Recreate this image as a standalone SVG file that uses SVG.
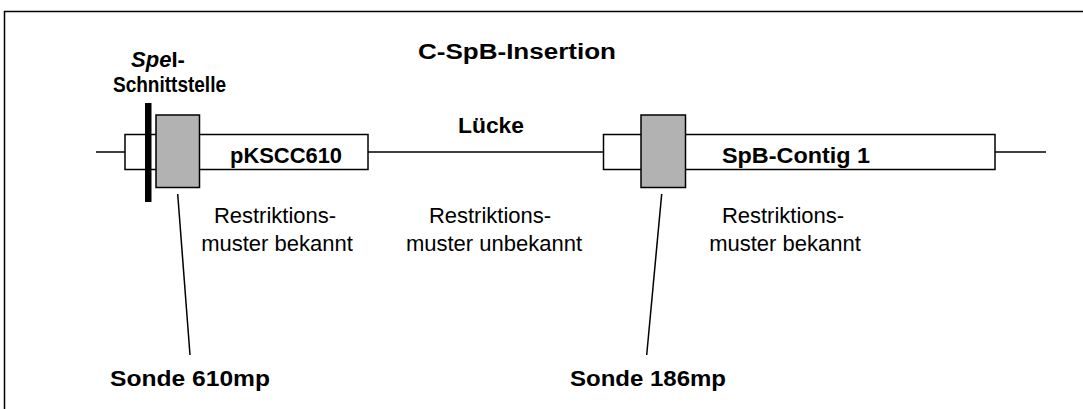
<svg xmlns="http://www.w3.org/2000/svg" width="1083" height="409" viewBox="0 0 1083 409">
<style>
.ln{stroke:#000;stroke-width:1.5;fill:none}
.wb{fill:#fff;stroke:#000;stroke-width:1.5}
.gb{fill:#b2b2b2;stroke:#000;stroke-width:1.5}
.b{font-family:"Liberation Sans",Arial,sans-serif;font-weight:bold;font-size:22px;fill:#000}
.r{font-family:"Liberation Sans",Arial,sans-serif;font-size:22px;fill:#000;text-anchor:middle}
</style>
<rect width="1083" height="409" fill="#fff"/>
<path class="ln" d="M4.5,409 V11.5 H1083"/>
<text class="b" x="418" y="59" font-size="24" textLength="198" lengthAdjust="spacingAndGlyphs">C-SpB-Insertion</text>
<g id="backbone">
<line class="ln" x1="96" y1="152" x2="125" y2="152"/>
<line class="ln" x1="368" y1="152" x2="603.5" y2="152"/>
<line class="ln" x1="995" y1="152" x2="1046" y2="152"/>
</g>
<g id="pKSCC610">
<rect class="wb" x="125" y="134.5" width="243" height="35"/>
<text class="b" x="230" y="162.5" textLength="112" lengthAdjust="spacingAndGlyphs">pKSCC610</text>
</g>
<g id="spei">
<rect x="145" y="103" width="6.5" height="99" fill="#000"/>
<text class="b" x="158" y="67" text-anchor="middle" font-size="21"><tspan font-style="italic">Spe</tspan>I-</text>
<text class="b" x="113" y="92" font-size="21" textLength="113" lengthAdjust="spacingAndGlyphs">Schnittstelle</text>
</g>
<g id="sonde610box">
<rect class="gb" x="156" y="115" width="43.5" height="72.5"/>
</g>
<g id="luecke">
<text class="b" x="458" y="133" textLength="66" lengthAdjust="spacingAndGlyphs">Lücke</text>
</g>
<g id="contig">
<rect class="wb" x="603.5" y="134.5" width="391.5" height="35"/>
<text class="b" x="722" y="162.5" textLength="148" lengthAdjust="spacingAndGlyphs">SpB-Contig 1</text>
</g>
<g id="sonde186box">
<rect class="gb" x="641" y="115" width="44.5" height="72.5"/>
</g>
<g id="label1">
<text class="r" x="275" y="223">Restriktions-</text>
<text class="r" x="277" y="251">muster bekannt</text>
</g>
<g id="label2">
<text class="r" x="490" y="223">Restriktions-</text>
<text class="r" x="494" y="251">muster unbekannt</text>
</g>
<g id="label3">
<text class="r" x="783" y="223">Restriktions-</text>
<text class="r" x="785" y="251">muster bekannt</text>
</g>
<g id="connectors">
<line class="ln" x1="177.7" y1="194" x2="190" y2="355"/>
<line class="ln" x1="661.7" y1="194" x2="646.7" y2="355"/>
</g>
<g id="sonde610">
<text class="b" x="110" y="386" textLength="160" lengthAdjust="spacingAndGlyphs">Sonde 610mp</text>
</g>
<g id="sonde186">
<text class="b" x="570" y="386" textLength="156" lengthAdjust="spacingAndGlyphs">Sonde 186mp</text>
</g>
</svg>
